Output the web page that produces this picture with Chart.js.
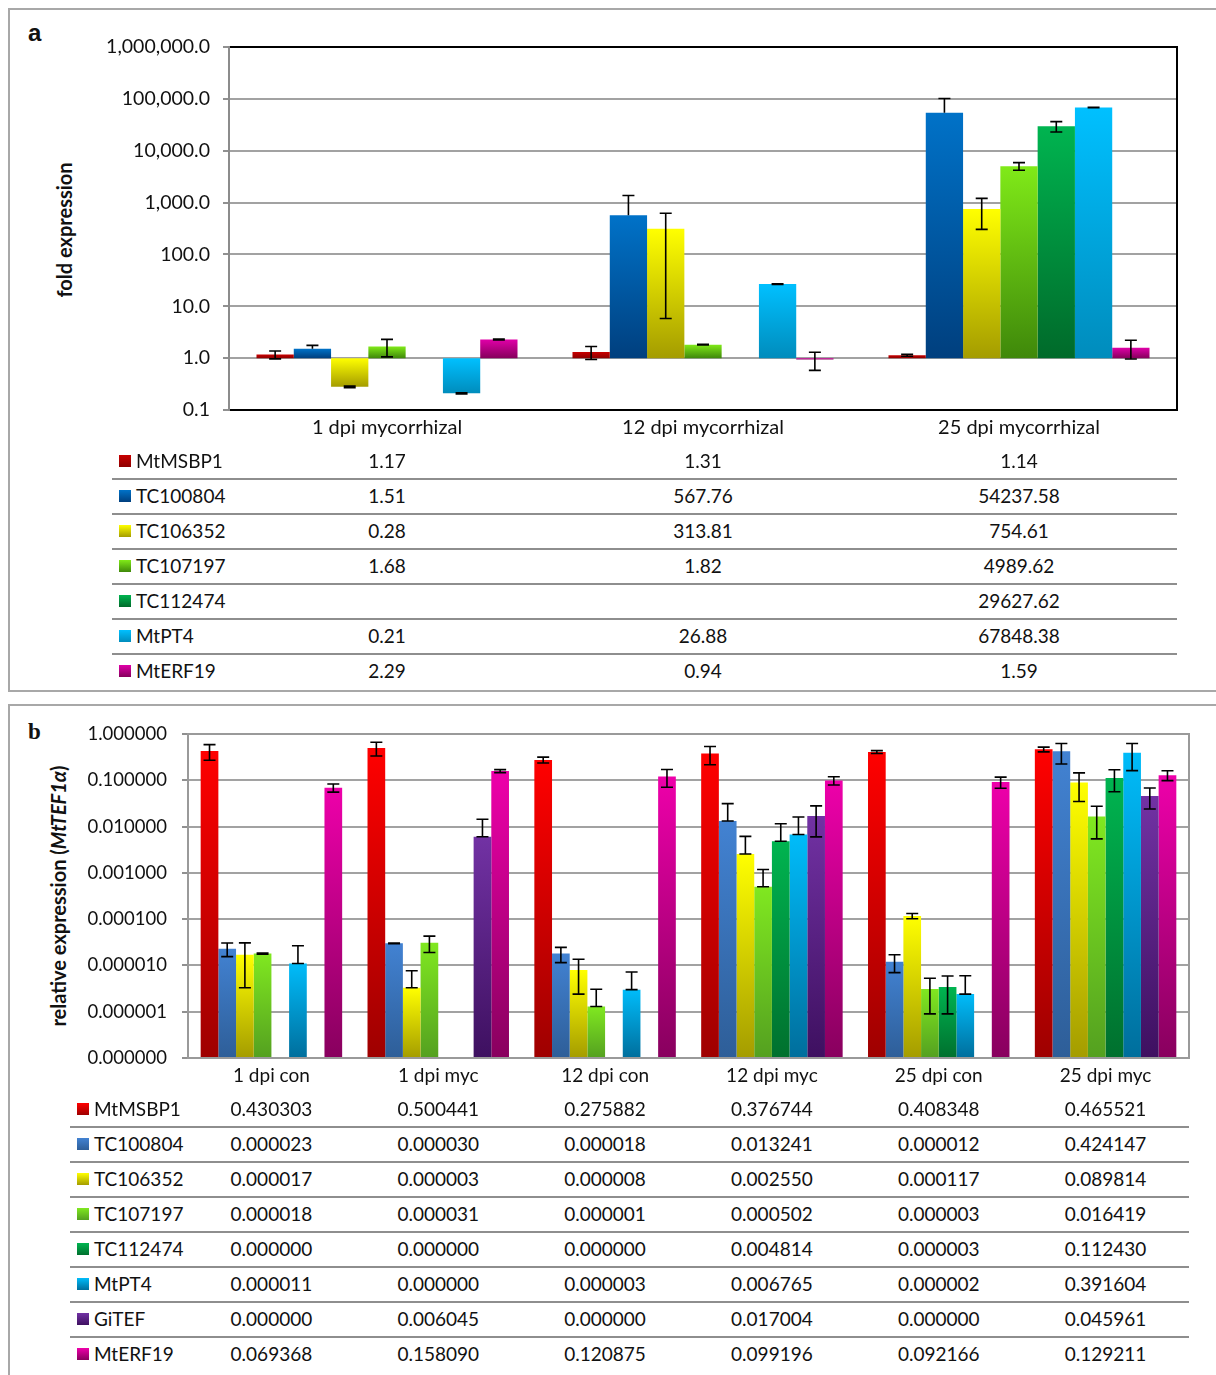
<!DOCTYPE html>
<html>
<head>
<meta charset="utf-8">
<script src="https://cdn.jsdelivr.net/npm/chart.js@4.4.1/dist/chart.umd.min.js"></script>
<style>
  body { margin: 0; background: #fff; }
  #page { position: relative; width: 1216px; height: 1375px; overflow: hidden; font-family: Lato, "Noto Sans", sans-serif; color: #111; }
  .panel { position: absolute; border: 2px solid #a8a8a8; border-right: none; }
  canvas { position: absolute; left: 0; }
  .txt { position: absolute; white-space: nowrap; font-size: 19px; line-height: 22px; }
  .c { transform: translate(-50%, -50%); }
  .l { transform: translate(0, -50%); }
  .sep { position: absolute; height: 2px; background: #8e8e8e; }
  .key { position: absolute; width: 12px; height: 12px; }
  .ytitle { position: absolute; white-space: nowrap; font-weight: bold; font-size: 20px; transform: translate(-50%, -50%) rotate(-90deg); }
  .tag { position: absolute; font-weight: bold; }
</style>
</head>
<body>
<div id="page">
  <div class="panel" style="left:8px; top:8px; width:1220px; height:680px;"></div>
  <div class="panel" style="left:8px; top:704px; width:1220px; height:700px;"></div>
  <div class="tag" style="left:28px; top:19px; font-size:24px; font-family:'Liberation Sans', Arial, sans-serif;">a</div>
  <div class="tag" style="left:28px; top:719px; font-size:23px; font-family:'Liberation Serif', 'Times New Roman', serif;">b</div>
  <div class="ytitle" style="left:64px; top:230px;">fold expression</div>
  <div class="ytitle" style="left:58px; top:896px;">relative expression (<i>MtTEF1α</i>)</div>
  <canvas id="chartA" width="1216" height="450" style="top:0;"></canvas>
  <canvas id="chartB" width="1216" height="410" style="top:700px;"></canvas>
</div>
<script>
// ---- panel a: fold expression ----
const aCategories = ['1 dpi mycorrhizal', '12 dpi mycorrhizal', '25 dpi mycorrhizal'];
const aGenes = ['MtMSBP1', 'TC100804', 'TC106352', 'TC107197', 'TC112474', 'MtPT4', 'MtERF19'];
const aValues = [
  [1.17, 1.31, 1.14],
  [1.51, 567.76, 54237.58],
  [0.28, 313.81, 754.61],
  [1.68, 1.82, 4989.62],
  [null, null, 29627.62],
  [0.21, 26.88, 67848.38],
  [2.29, 0.94, 1.59]
];
const aErrUp = [
  [0.2, 0.37, 0.05],
  [0.25, 800, 47500],
  [0.01, 310, 450],
  [0.62, 0.03, 900],
  [null, null, 6800],
  [0.005, 0.4, 600],
  [0.04, 0.36, 0.63]
];
const aErrDown = [
  [0.2, 0.37, 0.05],
  [0, 0, 0],
  [0.01, 308, 450],
  [0.62, 0.03, 800],
  [null, null, 6700],
  [0.005, 0.4, 600],
  [0.04, 0.36, 0.63]
];
const aTicks = [0.1, 1, 10, 100, 1000, 10000, 100000, 1000000];
const aTop = ['#c80000', '#0072c8', '#ffff00', '#80ea18', '#00b450', '#00c0ff', '#e000a8'];
const aBottom = ['#8e0000', '#003f7e', '#a49c00', '#3f880a', '#006a2a', '#008cbc', '#86005c'];

// ---- panel b: relative expression ----
const bCategories = ['1 dpi con', '1 dpi myc', '12 dpi con', '12 dpi myc', '25 dpi con', '25 dpi myc'];
const bGenes = ['MtMSBP1', 'TC100804', 'TC106352', 'TC107197', 'TC112474', 'MtPT4', 'GiTEF', 'MtERF19'];
const bValues = [
  [0.430303, 0.500441, 0.275882, 0.376744, 0.408348, 0.465521],
  [0.000023, 0.000030, 0.000018, 0.013241, 0.000012, 0.424147],
  [0.000017, 0.0000033, 0.000008, 0.002550, 0.000117, 0.089814],
  [0.000018, 0.000031, 0.0000013, 0.000502, 0.0000031, 0.016419],
  [0, 0, 0, 0.004814, 0.0000034, 0.112430],
  [0.000011, 0, 0.000003, 0.006765, 0.0000024, 0.391604],
  [0, 0.006045, 0, 0.017004, 0, 0.045961],
  [0.069368, 0.158090, 0.120875, 0.099196, 0.092166, 0.129211]
];
const bErr = [
  [0.16, 0.165, 0.04, 0.16, 0.03, 0.055],
  [0.0000075, 0.0000005, 0.0000065, 0.018, 0.000005, 0.2],
  [0.0000137, 0.0000044, 0.0000056, 0.0036, 0.000015, 0.055],
  [0.0000005, 0.000012, 0.00000175, 0.00068, 0.0000022, 0.011],
  [0, 0, 0, 0.0067, 0.0000025, 0.056],
  [0.0000156, 0, 0.0000042, 0.0093, 0.0000036, 0.23],
  [0, 0.0084, 0, 0.011, 0, 0.022],
  [0.014, 0.012, 0.05, 0.02, 0.025, 0.031]
];
const bTicks = [1e-7, 1e-6, 1e-5, 1e-4, 1e-3, 1e-2, 1e-1, 1];
const bTop = ['#ff0000', '#4282d2', '#ffff00', '#80e820', '#00b450', '#00bcfa', '#7232a4', '#ee00aa'];
const bBottom = ['#9e0000', '#2e5e98', '#a49c00', '#54a020', '#00702e', '#006e9c', '#3e1060', '#88005e'];

const FAMILY = 'Lato, "Noto Sans", sans-serif';

function barFill(top, bottom) {
  return (ctx) => {
    const chart = ctx.chart;
    if (ctx.type !== 'data' || !chart.chartArea || !Array.isArray(ctx.raw)) return top;
    const y = chart.scales.y;
    const p1 = y.getPixelForValue(Math.max(ctx.raw[0], ctx.raw[1]));
    const p2 = y.getPixelForValue(Math.min(ctx.raw[0], ctx.raw[1]));
    if (!isFinite(p1) || !isFinite(p2) || p1 === p2) return top;
    const g = chart.ctx.createLinearGradient(0, p1, 0, p2);
    g.addColorStop(0, top);
    g.addColorStop(1, bottom);
    return g;
  };
}

const errorBars = {
  id: 'errorBars',
  afterDatasetsDraw(chart) {
    const { ctx } = chart;
    const y = chart.scales.y;
    ctx.save();
    ctx.strokeStyle = '#000';
    ctx.lineWidth = 1.6;
    chart.data.datasets.forEach((ds, di) => {
      const meta = chart.getDatasetMeta(di);
      meta.data.forEach((bar, i) => {
        const raw = ds.data[i];
        if (!raw) return;
        const v = raw[1];
        const up = ds.errUp[i] || 0;
        const dn = ds.errDown[i] || 0;
        if (!up && !dn) return;
        const x = bar.x;
        const yv = y.getPixelForValue(v);
        const yHi = y.getPixelForValue(v + up);
        let yLo = yv;
        if (dn > 0) yLo = v - dn > 0 ? y.getPixelForValue(v - dn) : yv;
        ctx.beginPath();
        ctx.moveTo(x, yHi); ctx.lineTo(x, yv);
        if (dn > 0) ctx.lineTo(x, yLo);
        ctx.moveTo(x - 6, yHi); ctx.lineTo(x + 6, yHi);
        if (dn > 0) { ctx.moveTo(x - 6, yLo); ctx.lineTo(x + 6, yLo); }
        ctx.stroke();
      });
    });
    ctx.restore();
  }
};

const frame = {
  id: 'frame',
  afterDraw(chart, args, o) {
    const { ctx, chartArea: { left, top, right, bottom } } = chart;
    ctx.save();
    ctx.lineWidth = 2;
    const side = (c, x1, y1, x2, y2) => { ctx.strokeStyle = c; ctx.beginPath(); ctx.moveTo(x1, y1); ctx.lineTo(x2, y2); ctx.stroke(); };
    side(o.top, left, top, right + 1, top);
    side(o.right, right, top, right, bottom + 1);
    side(o.bottom, left, bottom, right + 1, bottom);
    side(o.left, left, top - 1, left, bottom + 1);
    ctx.restore();
  }
};

function makeChart(id, cfg) {
  return new Chart(document.getElementById(id), {
    type: 'bar',
    data: {
      labels: cfg.categories,
      datasets: cfg.genes.map((g, k) => ({
        label: g,
        data: cfg.values[k].map(v => (v ? [cfg.base, v] : null)),
        errUp: cfg.up[k],
        errDown: cfg.down[k],
        backgroundColor: barFill(cfg.top[k], cfg.bottom[k]),
        borderWidth: 0,
        categoryPercentage: cfg.catPct,
        barPercentage: 1
      }))
    },
    options: {
      responsive: false,
      animation: false,
      devicePixelRatio: 1,
      layout: { padding: cfg.padding },
      plugins: { legend: { display: false }, tooltip: { enabled: false }, frame: cfg.frame },
      scales: {
        x: {
          grid: { drawOnChartArea: false, drawTicks: false },
          border: { display: false },
          ticks: { font: { family: FAMILY, size: cfg.xFont }, color: '#111', padding: cfg.xPad, maxRotation: 0 },
          afterFit: s => { s.height = cfg.xHeight; }
        },
        y: {
          type: 'logarithmic',
          min: cfg.ticks[0],
          max: cfg.ticks[cfg.ticks.length - 1],
          afterBuildTicks: s => { s.ticks = cfg.ticks.map(v => ({ value: v })); },
          ticks: { font: { family: FAMILY, size: cfg.yFont }, color: '#111', padding: cfg.yPad, autoSkip: false, callback: cfg.fmt },
          grid: { color: '#a2a2a2', lineWidth: 2, tickLength: 6, tickColor: '#909090', tickWidth: 2 },
          border: { display: false },
          afterFit: s => { s.width = cfg.yWidth; }
        }
      }
    },
    plugins: [errorBars, frame]
  });
}

const chartA = makeChart('chartA', {
  categories: aCategories, genes: aGenes, values: aValues, up: aErrUp, down: aErrDown,
  top: aTop, bottom: aBottom, base: 1, catPct: 0.826, ticks: aTicks,
  padding: { left: 0, top: 47, right: 39, bottom: 0 }, xHeight: 40, yWidth: 229, xPad: 6, yPad: 13,
  xFont: 20, yFont: 19.5,
  fmt: v => Number(v).toLocaleString('en-US', { minimumFractionDigits: 1, maximumFractionDigits: 1 }),
  frame: { top: '#000', right: '#000', bottom: '#000', left: '#8c8c8c' }
});

const chartB = makeChart('chartB', {
  categories: bCategories, genes: bGenes, values: bValues, up: bErr, down: bErr,
  top: bTop, bottom: bBottom, base: 1e-7, catPct: 0.848, ticks: bTicks,
  padding: { left: 0, top: 34, right: 27, bottom: 0 }, xHeight: 52, yWidth: 188, xPad: 6, yPad: 15,
  xFont: 19, yFont: 18.5,
  fmt: v => Number(v).toFixed(6),
  frame: { top: '#9a9a9a', right: '#9a9a9a', bottom: '#9a9a9a', left: '#9a9a9a' }
});

// ---- data tables under the plots ----
const page = document.getElementById('page');
function add(cls, style, text) {
  const d = document.createElement('div');
  d.className = cls;
  Object.assign(d.style, style);
  if (text !== undefined) d.textContent = text;
  page.appendChild(d);
  return d;
}

function buildTable(chart, cfg) {
  const x = chart.scales.x;
  const right = chart.chartArea.right;
  cfg.genes.forEach((g, k) => {
    const ry = cfg.row0 + k * 35;
    add('key', { left: cfg.keyX + 'px', top: (ry - 6) + 'px', background: `linear-gradient(${cfg.top[k]}, ${cfg.bottom[k]})` });
    add('txt l', { left: (cfg.keyX + 17) + 'px', top: ry + 'px' }, g);
    cfg.values[k].forEach((v, i) => {
      if (v === null) return;
      add('txt c', { left: x.getPixelForValue(i) + 'px', top: ry + 'px' }, v.toFixed(cfg.digits));
    });
    if (k < cfg.genes.length - 1) {
      add('sep', { left: cfg.sepX + 'px', top: (ry + 17) + 'px', width: (right - cfg.sepX) + 'px' });
    }
  });
}

buildTable(chartA, { genes: aGenes, values: aValues, top: aTop, bottom: aBottom, row0: 461, keyX: 119, sepX: 112, digits: 2 });
buildTable(chartB, { genes: bGenes, values: bValues, top: bTop, bottom: bBottom, row0: 1109, keyX: 77, sepX: 70, digits: 6 });
</script>
</body>
</html>
